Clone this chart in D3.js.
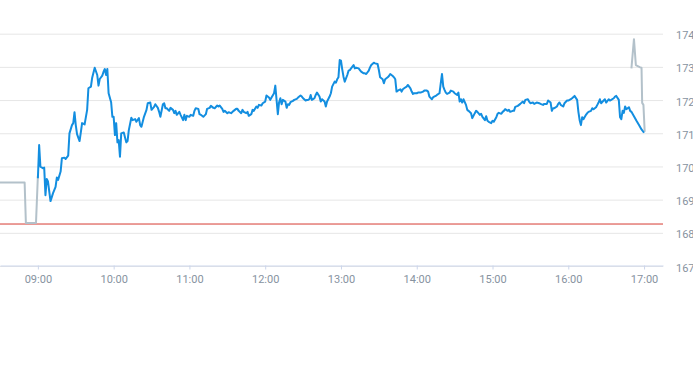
<!DOCTYPE html>
<html>
<head>
<meta charset="utf-8">
<script src="https://cdn.jsdelivr.net/npm/d3@7"></script>
<style>
  html, body { margin: 0; padding: 0; background: #fff; }
  svg { display: block; }
  .axis text { font-family: Roboto, "Noto Sans", sans-serif; font-size: 11px; fill: #87939f; }
</style>
</head>
<body>
<svg id="chart" width="693" height="365"></svg>
<script>
// ---- data (minutes after 09:00, price) ----
const timeTicks = ["09:00","10:00","11:00","12:00","13:00","14:00","15:00","16:00","17:00"];
const priceTicks = [167,168,169,170,171,172,173,174];
const previousClose = 168.25;

const preMarket = [[-30,169.5],[-10.5,169.5],[-9.5,168.28],[-1.5,168.28],[0,169.7]];

const session = [[0,169.63],[1,170.63],[2,169.98],[4,169.93],[5,169.95],[6,169.12],[7,169.61],[8,169.53],[10,168.94],[12,169.18],[14,169.37],[15,169.65],[16,169.58],[18,169.83],[19,170.23],[21,170.25],[22,170.21],[24,170.31],[25,170.98],[27,171.23],[28,171.29],[29,171.62],[30,171.23],[31,170.96],[33,170.75],[34,171.01],[35,171.29],[37,171.25],[39,171.69],[40,172.34],[42,172.39],[43,172.66],[45,172.96],[47,172.74],[48,172.42],[49,172.62],[51,172.72],[52,172.84],[53,172.92],[54,172.74],[55,172.92],[56,172.19],[58,171.92],[59,171.48],[60,171.48],[61,170.93],[62,171.29],[63,170.71],[64,170.78],[65,170.28],[66,170.98],[68,171.01],[70,170.71],[71,170.75],[72,171.08],[74,171.45],[75,171.38],[77,171.41],[78,171.33],[80,171.44],[81,171.23],[82,171.18],[84,171.48],[86,171.69],[87,171.89],[89,171.91],[90,171.69],[92,171.78],[93,171.86],[95,171.75],[96,171.63],[97,171.48],[99,171.86],[100,171.89],[101,171.74],[102,171.74],[104,171.66],[105,171.75],[107,171.69],[108,171.59],[109,171.66],[110,171.54],[112,171.63],[113,171.54],[115,171.38],[116,171.54],[117,171.38],[118,171.51],[120,171.48],[121,171.54],[123,171.51],[124,171.66],[125,171.74],[127,171.72],[128,171.56],[129,171.54],[131,171.48],[133,171.56],[134,171.72],[136,171.75],[137,171.81],[139,171.75],[140,171.74],[142,171.82],[143,171.79],[144,171.82],[146,171.72],[147,171.63],[148,171.66],[150,171.59],[151,171.62],[153,171.59],[155,171.66],[157,171.72],[158,171.72],[159,171.66],[161,171.59],[162,171.69],[163,171.63],[165,171.59],[166,171.63],[167,171.51],[169,171.56],[170,171.69],[171,171.66],[173,171.79],[174,171.75],[175,171.84],[177,171.82],[178,171.89],[180,171.94],[181,172.12],[183,172.06],[184,171.99],[185,172.06],[187,172.19],[188,172.42],[189,171.99],[190,171.56],[191,171.92],[192,172.04],[193,171.86],[194,171.99],[196,171.94],[197,171.75],[198,171.86],[199,171.84],[200,171.92],[202,171.96],[203,171.99],[205,172.02],[206,172.06],[208,172.12],[209,172.09],[210,172.04],[212,171.97],[213,171.99],[214,171.99],[215,172.01],[216,172.14],[217,171.99],[219,172.04],[220,172.14],[221,172.21],[223,172.09],[224,171.94],[225,172.01],[227,171.94],[228,171.79],[229,171.94],[231,172.09],[232,172.19],[233,172.39],[235,172.54],[236,172.51],[237,172.61],[238,172.67],[239,173.19],[240,173.17],[241,172.91],[242,172.69],[243,172.54],[245,172.74],[246,172.87],[247,172.89],[248,172.94],[250,173.04],[251,172.94],[252,172.96],[254,172.94],[255,172.89],[256,172.84],[258,172.79],[259,172.79],[260,172.77],[262,172.87],[263,172.97],[264,173.04],[266,173.11],[267,173.09],[269,173.07],[270,172.89],[271,172.67],[273,172.61],[274,172.49],[275,172.61],[277,172.67],[278,172.71],[279,172.77],[281,172.71],[282,172.67],[283,172.61],[284,172.24],[285,172.27],[287,172.31],[288,172.24],[289,172.31],[290,172.34],[292,172.39],[293,172.44],[295,172.34],[296,172.24],[297,172.17],[298,172.19],[300,172.19],[301,172.21],[303,172.21],[305,172.24],[306,172.27],[308,172.27],[309,172.24],[310,172.09],[312,172.01],[313,172.07],[315,172.11],[316,172.14],[318,172.19],[319,172.49],[320,172.77],[321,172.39],[322,172.29],[323,172.21],[324,172.17],[326,172.21],[327,172.27],[329,172.24],[330,172.19],[332,172.14],[333,172.21],[334,171.94],[335,172.01],[336,171.91],[337,172.01],[339,171.84],[340,171.69],[341,171.66],[343,171.59],[344,171.44],[346,171.59],[347,171.66],[348,171.63],[350,171.54],[351,171.57],[352,171.48],[354,171.38],[355,171.50],[356,171.36],[357,171.33],[359,171.29],[360,171.36],[361,171.33],[363,171.47],[364,171.57],[365,171.60],[367,171.57],[368,171.63],[369,171.66],[370,171.71],[372,171.66],[373,171.69],[374,171.63],[376,171.66],[377,171.66],[378,171.78],[380,171.81],[381,171.84],[382,171.87],[384,171.94],[385,171.89],[386,171.99],[388,172.01],[389,171.94],[390,171.89],[392,171.91],[393,171.87],[395,171.91],[397,171.89],[398,171.87],[400,171.84],[401,171.87],[403,171.87],[404,171.97],[405,171.94],[406,171.91],[407,171.66],[408,171.74],[409,171.74],[411,171.79],[412,171.87],[413,171.91],[414,171.84],[416,171.79],[417,171.89],[419,171.97],[420,171.97],[422,172.01],[423,172.04],[425,172.11],[427,171.99],[428,171.63],[429,171.38],[430,171.23],[431,171.47],[432,171.41],[434,171.54],[435,171.59],[436,171.63],[438,171.66],[439,171.74],[440,171.71],[442,171.77],[443,171.84],[444,171.91],[445,172.01],[446,171.89],[448,171.97],[449,172.01],[450,171.91],[452,172.01],[453,171.97],[454,171.99],[456,172.04],[457,172.09],[458,172.11],[460,171.99],[461,171.47],[462,171.41],[463,171.66],[464,171.60],[465,171.79],[466,171.71],[468,171.77],[469,171.66],[470,171.63],[472,171.50],[474,171.36],[476,171.23],[478,171.10],[480,171.00]];

const postMarket = [[470,172.94],[472,173.82],[473.5,173.04],[475,173.01],[477,172.97],[478,172.96],[478.5,171.9],[479.5,171.84],[480.5,171.03]];

// ---- layout ----
const W = 693, H = 365;
const plot = { left: 0, top: 0, width: 663, height: 265.5 };

const base = new Date(2024, 0, 2, 9, 0, 0);
const toDate = m => new Date(base.getTime() + m * 60000);
const parseTick = s => { const [h, mm] = s.split(":").map(Number); return (h - 9) * 60 + mm; };

const x = d3.scaleTime()
  .domain([toDate(-30), toDate(495)])
  .range([plot.left, plot.left + plot.width]);
const y = d3.scaleLinear()
  .domain([167, 175])
  .range([plot.top + plot.height, plot.top]);

const svg = d3.select("#chart");

// gridlines + right labels
const yAxis = d3.axisRight(y)
  .tickValues(priceTicks)
  .tickSize(plot.width)
  .tickPadding(13)
  .tickFormat(d3.format("d"));
const gy = svg.append("g").attr("class", "axis")
  .attr("transform", `translate(${plot.left},0)`)
  .call(yAxis);
gy.select(".domain").remove();
gy.selectAll(".tick line").attr("stroke", "#e6e6e6").attr("stroke-width", 1)
  .attr("transform", "translate(0,0.5)");
gy.selectAll(".tick text").attr("dy", "0.5em");

// x axis
const xAxis = d3.axisBottom(x)
  .tickValues(timeTicks.map(s => toDate(parseTick(s))))
  .tickFormat((d, i) => timeTicks[i])
  .tickSizeInner(4)
  .tickSizeOuter(0)
  .tickPadding(6);
const gx = svg.append("g").attr("class", "axis")
  .attr("transform", `translate(0,${plot.top + plot.height})`)
  .call(xAxis);
gx.select(".domain").attr("stroke", "#ccd6eb");
gx.selectAll(".tick line").attr("stroke", "#ccd6eb");

// clip
svg.append("clipPath").attr("id", "clip")
  .append("rect").attr("x", plot.left).attr("y", plot.top)
  .attr("width", plot.width).attr("height", plot.height);

const g = svg.append("g").attr("clip-path", "url(#clip)");

// previous close line
g.append("line")
  .attr("x1", plot.left).attr("x2", plot.left + plot.width)
  .attr("y1", y(previousClose)).attr("y2", y(previousClose))
  .attr("stroke", "#d63a32").attr("stroke-width", 1);

const line = d3.line()
  .x(d => x(toDate(d[0])))
  .y(d => y(d[1]));

g.append("path").datum(preMarket)
  .attr("d", line).attr("fill", "none")
  .attr("stroke", "#b3c1ca").attr("stroke-width", 2).attr("stroke-linejoin", "round");

g.append("path").datum(postMarket)
  .attr("d", line).attr("fill", "none")
  .attr("stroke", "#b3c1ca").attr("stroke-width", 2).attr("stroke-linejoin", "round");

g.append("path").datum(session)
  .attr("d", line).attr("fill", "none")
  .attr("stroke", "#138ee0").attr("stroke-width", 2).attr("stroke-linejoin", "round");
</script>
</body>
</html>
